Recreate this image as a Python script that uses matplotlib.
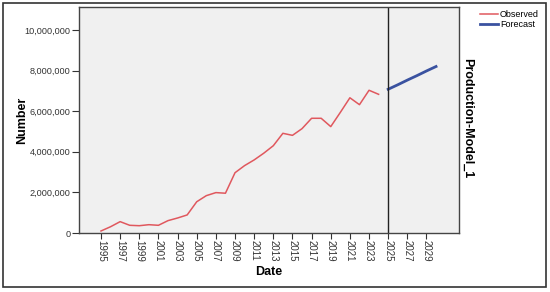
import matplotlib.pyplot as plt
from matplotlib.patches import Rectangle
from matplotlib.ticker import FuncFormatter

plt.rcParams['font.family'] = ['Liberation Sans', 'DejaVu Sans']

# observed series
obs_years = list(range(1995, 2025))
obs_values = [100000, 310000, 560000, 380000, 360000, 410000, 380000, 610000,
              740000, 890000, 1540000, 1840000, 1990000, 1960000, 2970000,
              3320000, 3600000, 3930000, 4300000, 4910000, 4810000, 5140000,
              5650000, 5650000, 5240000, 5940000, 6660000, 6320000, 7030000,
              6830000]

# forecast series
fc_years = [2025, 2026, 2027, 2028, 2029, 2030]
fc_values = [7080000, 7300000, 7530000, 7750000, 7980000, 8200000]

tick_years = list(range(1995, 2031, 2))
y_ticks = [0, 2000000, 4000000, 6000000, 8000000, 10000000]

fig = plt.figure(figsize=(5.5, 2.92), dpi=100)
ax = fig.add_axes([0.1436, 0.202, 0.691, 0.774])
ax.set_facecolor('#f0f0f0')

ax.plot(obs_years, obs_values, color='#e0585e', linewidth=1.1, label='Observed')
ax.plot(fc_years, fc_values, color='#3a52a0', linewidth=2.0, label='Forecast')
ax.axvline(2025, color='#222222', linewidth=1.0)

ax.set_xlim(1992.7, 2032.4)
ax.set_ylim(0, 11130000)
ax.set_xticks(tick_years)
ax.set_xticklabels([str(y) for y in tick_years], rotation=270, fontsize=7)
ax.set_yticks(y_ticks)
ax.yaxis.set_major_formatter(FuncFormatter(lambda v, p: f"{int(v):,}"))
ax.tick_params(axis='y', labelsize=6.6, length=5, pad=1, color='#333333',
               labelcolor='#333333')
ax.tick_params(axis='x', length=4, pad=1, color='#333333', labelcolor='#333333')
for s in ax.spines.values():
    s.set_color('#444444')
    s.set_linewidth(1.0)

ax.set_xlabel('Date', fontsize=9, fontweight='bold', labelpad=3)
ax.set_ylabel('Number', fontsize=9, fontweight='bold')
ax.yaxis.set_label_coords(-0.135, 0.5)

fig.text(0.849, 0.596, 'Production-Model_1', rotation=270, fontsize=9,
         fontweight='bold', ha='center', va='center')

fig.legend(loc='upper right', bbox_to_anchor=(0.99, 0.985), frameon=False,
           fontsize=6.5, handlelength=2.0, handletextpad=0.2,
           labelspacing=0.15, borderaxespad=0.2)

# frame around the whole chart
fig.add_artist(Rectangle((0.006, 0.017), 0.986, 0.972, transform=fig.transFigure,
                         fill=False, edgecolor='#333333', linewidth=1.2))

fig.savefig('out.png', dpi=100)
